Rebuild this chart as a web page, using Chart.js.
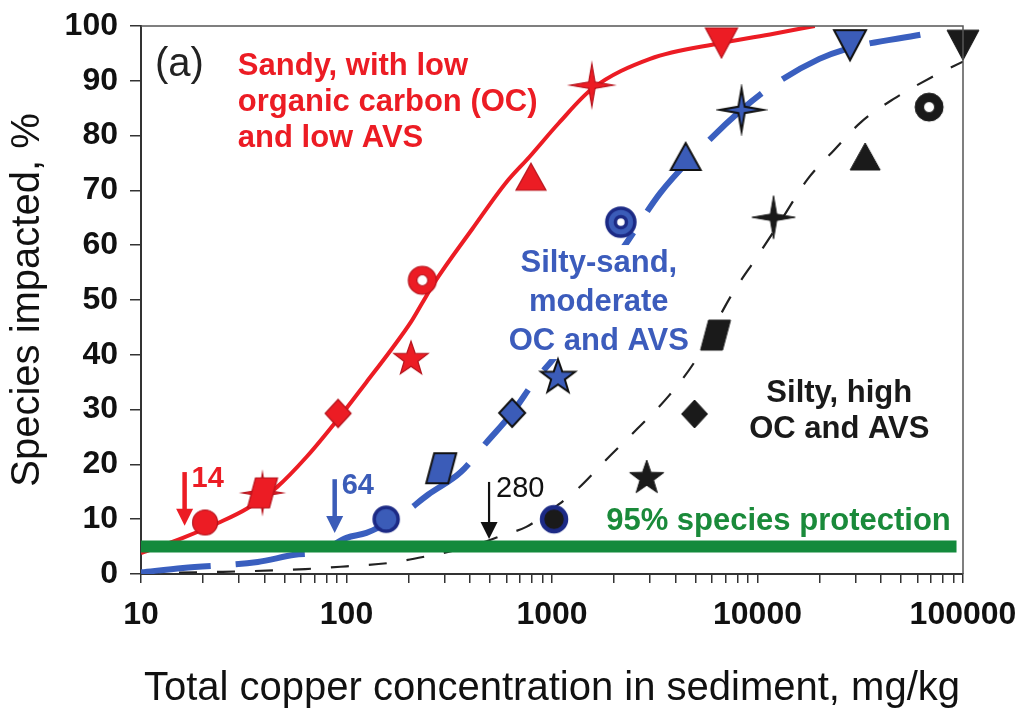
<!DOCTYPE html>
<html>
<head>
<meta charset="utf-8">
<script src="https://cdn.jsdelivr.net/npm/chart.js@4.4.0/dist/chart.umd.min.js"></script>
<style>
  body { margin: 0; background: #fff; }
</style>
</head>
<body>
<canvas id="copper-chart" width="1022" height="715"></canvas>

<script>
// values: x = total Cu in sediment (mg/kg), y = % species impacted
var sandyX = [20.5, 39, 91, 206, 234, 790, 1563, 6680];
var sandyY = [9.4, 14.8, 29.3, 39.2, 53.6, 72.4, 89.2, 96.9];
var sandyShapes = ['circle', 'paraStar', 'diamond', 'star5', 'ring', 'triangle', 'star4', 'downTriangle'];

var siltySandX = [156, 289, 640, 1069, 2163, 4470, 8360, 28200];
var siltySandY = [10.0, 19.3, 29.4, 35.9, 64.2, 76.1, 84.7, 96.5];
var siltySandShapes = ['circle', 'para', 'diamond', 'star5', 'ring', 'triangle', 'star4', 'downTriangle'];

var siltyX = [1023, 2890, 4940, 6250, 11970, 33400, 68400, 100000];
var siltyY = [10.0, 17.5, 29.2, 43.6, 65.1, 76.1, 85.2, 96.5];
var siltyShapes = ['circle', 'star5', 'diamond', 'para', 'star4', 'triangle', 'ring', 'downTriangle'];

// fitted curves
var sandyFitX = [10, 16, 23.7, 33, 46, 64, 91, 125, 167, 206, 234, 268, 410, 597, 776, 1080, 1563, 3000, 6680, 12000, 19000];
var sandyFitY = [3.8, 6.6, 9.3, 12, 15.9, 21.4, 28.3, 35, 41.2, 46, 49.5, 53.2, 63, 71.4, 76.1, 82.3, 88.5, 94, 96.9, 98.6, 100];

var siltySandFitX = [10, 16, 37, 56, 74, 100, 125, 156, 180, 250, 360, 480, 640, 815, 1100, 1500, 2360, 3360, 4800, 8360, 11600, 20000, 28200, 62000];
var siltySandFitY = [0.3, 1.1, 2.2, 3.5, 4.0, 6.6, 7.5, 9.2, 10.4, 14.5, 18.6, 24, 29.4, 35, 41, 50, 61, 69.5, 76, 84.7, 88.9, 94, 96, 98.4];

var siltyFitX = [10, 25, 63, 100, 160, 250, 400, 600, 750, 1000, 1330, 1850, 2600, 3700, 5000, 7500, 10000, 13000, 17500, 23500, 32000, 46000, 70000, 100000];
var siltyFitY = [0.2, 0.4, 0.9, 1.4, 2.0, 3.3, 5.0, 7.3, 8.6, 11.8, 15.5, 21, 26.5, 32.5, 39, 51, 58, 64.5, 72, 77.3, 82.5, 86.7, 90.6, 93.5];

// 95% species protection level (5% impacted)
var protectionX = [10, 93000];
var protectionY = [5, 5];

// HC5 arrows
var arrowX = [16.3, 87.6, 494];
var arrowTop = [18.6, 17.3, 16.8];
var arrowTip = [8.8, 7.5, 6.4];
var arrowText = ['14', '64', '280'];

// axes
var xMajor = [10, 100, 1000, 10000, 100000];
var xTickLabels = ['10', '100', '1000', '10000', '100000'];
var xMinor = [1, 2, 3, 4, 5, 6, 7, 8, 9];
var yTicks = [0, 10, 20, 30, 40, 50, 60, 70, 80, 90, 100];
var xTitle = 'Total copper concentration in sediment, mg/kg';
var yTitle = 'Species impacted, %';

var RED = '#ec1c24', BLUE = '#3b5cb8', BLACK = '#1a1a1a', NAVY = '#1c2a85', GREEN = '#138a3c';
var FONT = '"Liberation Sans", Arial, sans-serif';

function toPoints(xs, ys) {
  var pts = [];
  for (var i = 0; i < xs.length; i++) pts.push({x: xs[i], y: ys[i]});
  return pts;
}

function starPath(g, n, rOut, rIn) {
  for (var i = 0; i < n * 2; i++) {
    var r = i % 2 ? rIn : rOut;
    var a = -Math.PI / 2 + i * Math.PI / n;
    var px = r * Math.cos(a), py = r * Math.sin(a);
    if (i == 0) g.moveTo(px, py); else g.lineTo(px, py);
  }
  g.closePath();
}

function poly(g, pts) {
  g.moveTo(pts[0][0], pts[0][1]);
  for (var i = 1; i < pts.length; i++) g.lineTo(pts[i][0], pts[i][1]);
  g.closePath();
}

// build a marker image for Chart.js pointStyle
function makeMarker(shape, st) {
  var s = 52;
  var c = document.createElement('canvas');
  c.width = s; c.height = s;
  var g = c.getContext('2d');
  g.translate(s / 2, s / 2);
  g.fillStyle = st.fill; g.strokeStyle = st.stroke; g.lineWidth = st.lw;
  g.lineJoin = 'miter';
  g.beginPath();
  if (shape == 'circle') {
    g.arc(0, 0, st.circleR, 0, Math.PI * 2);
    g.fill();
    g.lineWidth = st.ringLw; g.strokeStyle = st.ringStroke; g.stroke();
    return c;
  }
  if (shape == 'ring') {
    g.arc(0, 0, 14, 0, Math.PI * 2);
    g.fill();
    g.lineWidth = st.ringLw; g.strokeStyle = st.ringStroke; g.stroke();
    g.beginPath();
    g.arc(0, 0, 5.5, 0, Math.PI * 2);
    g.fillStyle = '#fff'; g.fill(); g.stroke();
    return c;
  }
  if (shape == 'paraStar') {
    starPath(g, 4, 20, 4);
    g.fill(); g.stroke();
    g.beginPath();
    shape = 'para';
  }
  if (shape == 'para') poly(g, [[-7, -15], [15, -15], [7, 15], [-15, 15]]);
  if (shape == 'diamond') poly(g, [[0, -14], [13, 0], [0, 14], [-13, 0]]);
  if (shape == 'star5') starPath(g, 5, 18, 7.2);
  if (shape == 'star4') starPath(g, 4, 21.5, 4.5);
  if (shape == 'triangle') poly(g, [[0, -14], [15, 13], [-15, 13]]);
  if (shape == 'downTriangle') poly(g, [[-16, -15], [16, -15], [0, 15]]);
  g.fill();
  g.stroke();
  return c;
}

var redStyle = {fill: RED, stroke: '#b5121b', lw: 1.2, circleR: 12.5, ringStroke: '#b5121b', ringLw: 1.2};
var blueStyle = {fill: BLUE, stroke: '#111', lw: 2, circleR: 12, ringStroke: NAVY, ringLw: 3.5};
var blackStyle = {fill: BLACK, stroke: BLACK, lw: 1, circleR: 12, ringStroke: NAVY, ringLw: 4.5};

var sandyMarks = sandyShapes.map(function (s) { return makeMarker(s, redStyle); });
var siltySandMarks = siltySandShapes.map(function (s) { return makeMarker(s, blueStyle); });
var siltyMarks = siltyShapes.map(function (s) {
  return makeMarker(s, s == 'ring' ? {fill: BLACK, stroke: BLACK, lw: 1, ringStroke: BLACK, ringLw: 1} : blackStyle);
});

function markerSet(xs, ys, marks) {
  return {
    data: toPoints(xs, ys), showLine: false, pointStyle: marks,
    pointRadius: 14, order: 0, clip: false
  };
}

function curveSet(xs, ys, color, width, dash) {
  return {
    data: toPoints(xs, ys), showLine: true, borderColor: color, borderWidth: width,
    borderDash: dash, pointRadius: 0, cubicInterpolationMode: 'monotone', fill: false, order: 2
  };
}

// text blocks: anchor x value, first baseline y value, line spacing in px
var labelBlocks = [
  {lines: ['(a)'], x: 11.7, y: 90.9, gap: 0, align: 'left', color: '#222', font: '40px ' + FONT},
  {lines: ['Sandy, with low', 'organic carbon (OC)', 'and low AVS'], x: 29.6, y: 91.1, gap: 36, align: 'left', color: RED, font: 'bold 31px ' + FONT},
  {lines: ['Silty-sand,', 'moderate', 'OC and AVS'], x: 1690, y: 55.1, gap: 39, align: 'center', color: '#3c5cbc', font: 'bold 31px ' + FONT, box: true},
  {lines: ['Silty, high', 'OC and AVS'], x: 25000, y: 31.4, gap: 36, align: 'center', color: BLACK, font: 'bold 31px ' + FONT},
  {lines: ['95% species protection'], x: 12650, y: 8.0, gap: 0, align: 'center', color: '#1a8a3a', font: 'bold 31px ' + FONT}
];

var annotate = {
  id: 'annotate',
  afterDatasetDraw: function (chart, args) {
    if (args.index !== 3) return;
    var ctx = chart.ctx, xs = chart.scales.x, ys = chart.scales.y;
    ctx.save();
    labelBlocks.forEach(function (b) {
      ctx.font = b.font;
      ctx.textAlign = b.align;
      ctx.textBaseline = 'alphabetic';
      var px = xs.getPixelForValue(b.x), py = ys.getPixelForValue(b.y);
      if (b.box) {
        var w = 0;
        b.lines.forEach(function (l) { w = Math.max(w, ctx.measureText(l).width); });
        ctx.fillStyle = '#fff';
        ctx.fillRect(px - w / 2 - 4, py - 27, w + 8, b.gap * (b.lines.length - 1) + 36);
      }
      ctx.fillStyle = b.color;
      b.lines.forEach(function (l, i) { ctx.fillText(l, px, py + i * b.gap); });
    });

    // arrows
    var arrowColor = [RED, BLUE, '#111'];
    var shaft = [4.5, 4.5, 2.2];
    for (var i = 0; i < arrowX.length; i++) {
      var ax = xs.getPixelForValue(arrowX[i]);
      var top = ys.getPixelForValue(arrowTop[i]);
      var tip = ys.getPixelForValue(arrowTip[i]);
      ctx.strokeStyle = arrowColor[i]; ctx.fillStyle = arrowColor[i];
      ctx.lineWidth = shaft[i];
      ctx.beginPath(); ctx.moveTo(ax, top); ctx.lineTo(ax, tip - 14); ctx.stroke();
      ctx.beginPath();
      ctx.moveTo(ax - 8.5, tip - 17); ctx.lineTo(ax + 8.5, tip - 17); ctx.lineTo(ax, tip);
      ctx.closePath(); ctx.fill();
      ctx.font = (i < 2 ? 'bold ' : '') + '29px ' + FONT;
      ctx.textAlign = 'left';
      ctx.fillText(arrowText[i], ax + 7, top + 15);
    }
    ctx.restore();
  },
  afterDraw: function (chart) {
    var a = chart.chartArea, ctx = chart.ctx;
    ctx.save();
    ctx.strokeStyle = '#555';
    ctx.lineWidth = 1.5;
    ctx.beginPath();
    ctx.moveTo(a.left, a.top); ctx.lineTo(a.right, a.top); ctx.lineTo(a.right, a.bottom);
    ctx.stroke();
    ctx.restore();
  }
};

var xTickVals = [];
xMajor.forEach(function (d, k) {
  if (k == xMajor.length - 1) { xTickVals.push(d); return; }
  xMinor.forEach(function (m) { xTickVals.push(d * m); });
});

var ctx = document.getElementById('copper-chart');
var chart = new Chart(ctx, {
  type: 'scatter',
  data: {
    datasets: [
      markerSet(sandyX, sandyY, sandyMarks),
      markerSet(siltySandX, siltySandY, siltySandMarks),
      markerSet(siltyX, siltyY, siltyMarks),
      {data: toPoints(protectionX, protectionY), showLine: true, borderColor: GREEN, borderWidth: 12,
       borderCapStyle: 'butt', pointRadius: 0, order: 1},
      curveSet(sandyFitX, sandyFitY, RED, 4, []),
      curveSet(siltySandFitX, siltySandFitY, '#3a5fbf', 6, [70, 25]),
      curveSet(siltyFitX, siltyFitY, '#222', 2.2, [18, 20])
    ]
  },
  options: {
    responsive: false,
    animation: false,
    layout: {padding: {top: 26, right: 59, left: 0, bottom: 0}},
    plugins: {legend: {display: false}, tooltip: {enabled: false}},
    scales: {
      x: {
        type: 'logarithmic', min: 10, max: 100000,
        afterBuildTicks: function (axis) {
          axis.ticks = xTickVals.map(function (v) { return {value: v}; });
        },
        afterFit: function (axis) {
          axis.height = 141;
          axis.paddingLeft = 0; axis.paddingRight = 0;
        },
        grid: {drawOnChartArea: false, tickLength: 9, color: '#333', lineWidth: 1.5},
        border: {display: true, color: '#333', width: 2},
        ticks: {
          autoSkip: false, maxRotation: 0, padding: 13, color: '#111',
          font: {family: FONT, size: 32, weight: 'bold'},
          callback: function (v) {
            var i = xMajor.indexOf(v);
            return i >= 0 ? xTickLabels[i] : '';
          }
        },
        title: {display: true, text: xTitle, color: '#111', font: {family: FONT, size: 40}, padding: {top: 0, bottom: 2}}
      },
      y: {
        min: 0, max: 100,
        afterBuildTicks: function (axis) {
          axis.ticks = yTicks.map(function (v) { return {value: v}; });
        },
        afterFit: function (axis) {
          axis.width = 141;
          axis.paddingTop = 0; axis.paddingBottom = 0;
        },
        grid: {drawOnChartArea: false, tickLength: 11, color: '#333', lineWidth: 1.5},
        border: {display: true, color: '#333', width: 2},
        ticks: {padding: 12, color: '#111', font: {family: FONT, size: 32, weight: 'bold'}},
        title: {display: true, text: yTitle, color: '#111', font: {family: FONT, size: 40}, padding: {top: 4, bottom: 0}}
      }
    }
  },
  plugins: [annotate]
});
</script>
</body>
</html>
